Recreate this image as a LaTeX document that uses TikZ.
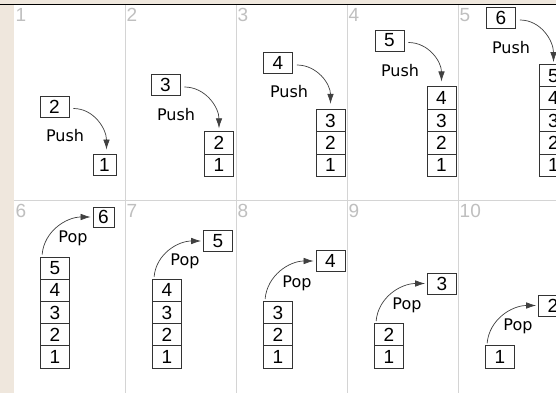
\documentclass[tikz,border=0pt]{standalone}
\usepackage{fontspec}
\usetikzlibrary{arrows.meta}
\newfontfamily\digfont{Liberation Sans}
\newfontfamily\lblfont{DejaVu Sans}
\newcommand\digsize{\digfont\fontsize{19}{19}\selectfont}
\newcommand\opsize{\lblfont\fontsize{16}{16}\selectfont}
\newcommand\labsize{\digfont\fontsize{19}{19}\selectfont}
\definecolor{beige}{HTML}{EFE7DD}
\tikzset{
  cell/.style={draw=black!80, line width=0.8pt, minimum width=29pt, minimum height=22.4pt, inner sep=0pt, fill=white, font=\digsize},
  bcell/.style={cell, minimum height=22.2pt},
  pbox/.style={cell, minimum height=21pt},
  arr/.style={draw=black!75, line width=0.7pt, -{Latex[length=10pt,width=6.5pt]}},
  op/.style={inner sep=0pt, font=\opsize},
  plabel/.style={anchor=north west, inner sep=0pt, text=black!25, font=\labsize},
  sep/.style={draw=black!17, line width=0.8pt}
}
\begin{document}
\begin{tikzpicture}[x=1pt,y=-1pt]
\useasboundingbox (0,0) rectangle (556,393);
% background
\fill[white] (0,0) rectangle (556,393);
\fill[beige] (0,0) rectangle (14,393);
\fill[beige] (0,0) rectangle (556,4);
\draw[black, line width=1.5pt] (0,4.6) -- (556,4.6);
% separators
\draw[sep] (14,200.5) -- (556,200.5);
\foreach \sx in {125,236,347,458} {\draw[sep] (\sx,5.5) -- (\sx,393);}
% panel labels
\node[plabel] (l1) at (15.5,8) {1};
\node[plabel] (l2) at (126.5,8) {2};
\node[plabel] (l3) at (237.5,8) {3};
\node[plabel] (l4) at (348.5,8) {4};
\node[plabel] (l5) at (459.5,8) {5};
\node[plabel] (l6) at (15.5,204) {6};
\node[plabel] (l7) at (126.5,204) {7};
\node[plabel] (l8) at (237.5,204) {8};
\node[plabel] (l9) at (348.5,204) {9};
\node[plabel] (l10) at (459.5,204) {10};

% ---------- top row: Push ----------
% panel 1
\node[pbox] (a1) at (54.5,106.5) {2};
\node[op] (pa1) at (65,136) {Push};
\node[cell, minimum width=23pt, minimum height=21pt] (sa1) at (104.5,164.5) {1};
\draw[arr] ([xshift=4pt,yshift=-2pt]a1.east) to[out=0,in=90] ([xshift=2pt,yshift=4pt]sa1.north);
% panel 2
\node[pbox] (a2) at (165.5,85) {3};
\node[op] (pa2) at (176,115) {Push};
\node[cell] (sb1) at (219,165.3) {1};
\node[cell] (sb2) at (219,142.9) {2};
\draw[arr] ([xshift=4pt,yshift=-2pt]a2.east) to[out=0,in=90] ([yshift=3pt]sb2.north);
% panel 3
\node[pbox] (a3) at (278,63) {4};
\node[op] (pa3) at (289,92) {Push};
\node[cell] (sc1) at (330.5,165.3) {1};
\node[cell] (sc2) at (330.5,142.9) {2};
\node[cell] (sc3) at (330.5,120.5) {3};
\draw[arr] ([xshift=4pt,yshift=-2pt]a3.east) to[out=0,in=90] ([yshift=5pt]sc3.north);
% panel 4
\node[pbox] (a4) at (389.5,40.5) {5};
\node[op] (pa4) at (400,71) {Push};
\node[cell] (sd1) at (441.5,165.3) {1};
\node[cell] (sd2) at (441.5,142.9) {2};
\node[cell] (sd3) at (441.5,120.5) {3};
\node[cell] (sd4) at (441.5,98.1) {4};
\draw[arr] ([xshift=4pt,yshift=-2pt]a4.east) to[out=0,in=90] ([yshift=5pt]sd4.north);
% panel 5
\node[pbox] (a5) at (501,18) {6};
\node[op] (pa5) at (511,48) {Push};
\node[cell] (se1) at (553.5,165.3) {1};
\node[cell] (se2) at (553.5,142.9) {2};
\node[cell] (se3) at (553.5,120.5) {3};
\node[cell] (se4) at (553.5,98.1) {4};
\node[cell] (se5) at (553.5,75.7) {5};
\draw[arr] ([xshift=4pt,yshift=-2pt]a5.east) to[out=0,in=90] ([yshift=2pt]se5.north);

% ---------- bottom row: Pop ----------
% panel 6
\node[bcell] (ta1) at (55,356.9) {1};
\node[bcell] (ta2) at (55,334.7) {2};
\node[bcell] (ta3) at (55,312.5) {3};
\node[bcell] (ta4) at (55,290.3) {4};
\node[bcell] (ta5) at (55,268.1) {5};
\node[cell, minimum width=21pt, minimum height=20pt] (b1) at (103.5,217) {6};
\node[op] (pb1) at (73,238.5) {Pop};
\draw[arr] ([xshift=2pt,yshift=2pt]ta5.north west) to[out=85,in=180] ([xshift=-2pt]b1.west);
% panel 7
\node[bcell] (tb1) at (167,356.9) {1};
\node[bcell] (tb2) at (167,334.7) {2};
\node[bcell] (tb3) at (167,312.5) {3};
\node[bcell] (tb4) at (167,290.3) {4};
\node[pbox] (b2) at (218,241) {5};
\node[op] (pb2) at (185,261) {Pop};
\draw[arr] ([xshift=2pt,yshift=2pt]tb4.north west) to[out=85,in=180] ([xshift=-2pt]b2.west);
% panel 8
\node[bcell] (tc1) at (278,356.9) {1};
\node[bcell] (tc2) at (278,334.7) {2};
\node[bcell] (tc3) at (278,312.5) {3};
\node[pbox] (b3) at (330.5,261) {4};
\node[op] (pb3) at (297,283) {Pop};
\draw[arr] ([xshift=2pt,yshift=2pt]tc3.north west) to[out=85,in=180] ([xshift=-2pt]b3.west);
% panel 9
\node[bcell] (td1) at (389,356.9) {1};
\node[bcell] (td2) at (389,334.7) {2};
\node[pbox] (b4) at (442,283.5) {3};
\node[op] (pb4) at (407,305) {Pop};
\draw[arr] ([xshift=2pt,yshift=2pt]td2.north west) to[out=85,in=180] ([xshift=-2pt]b4.west);
% panel 10
\node[bcell] (te1) at (500,356.9) {1};
\node[pbox] (b5) at (553,305.5) {2};
\node[op] (pb5) at (518,326) {Pop};
\draw[arr] ([xshift=2pt,yshift=2pt]te1.north west) to[out=85,in=180] ([xshift=-2pt]b5.west);
\end{tikzpicture}
\end{document}
